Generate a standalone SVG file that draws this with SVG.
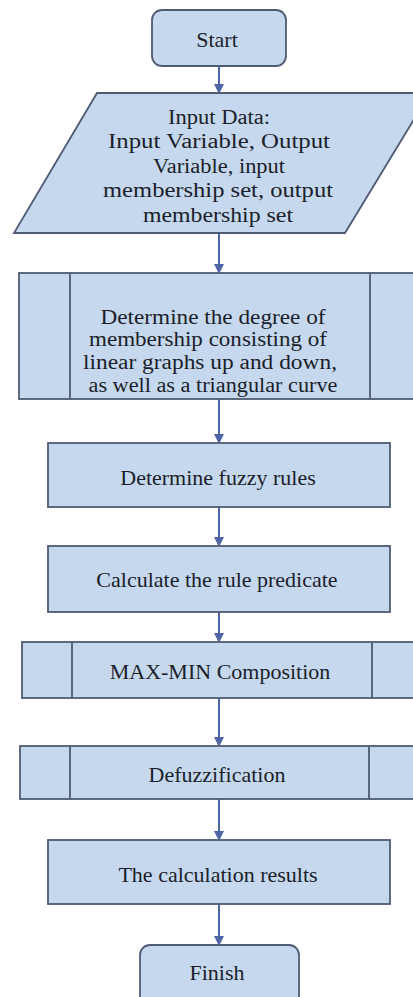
<svg xmlns="http://www.w3.org/2000/svg" width="413" height="997" viewBox="0 0 413 997">
<defs>
<style>
.box{fill:#c5d8ee;stroke:#4f5b72;stroke-width:1.8}
.sep{stroke:#4f5b72;stroke-width:1.8;fill:none}
.t{font-family:"Liberation Serif","Times New Roman",serif;font-size:22px;fill:#1c1e2a;text-anchor:middle}
.m{font-size:20px}
.c{stroke:#4e66a6;stroke-width:2;fill:none;marker-end:url(#ah)}
</style>
<marker id="ah" viewBox="0 0 10 10" refX="9" refY="5" markerWidth="5" markerHeight="5" orient="auto" markerUnits="strokeWidth">
<path d="M0,0 L10,5 L0,10 z" fill="#4e66a6"/>
</marker>
</defs>
<rect width="413" height="997" fill="#ffffff"/>
<g id="connectors">
<line class="c" x1="219" y1="66" x2="219" y2="93"/>
<line class="c" x1="219" y1="233" x2="219" y2="273"/>
<line class="c" x1="219" y1="399" x2="219" y2="443"/>
<line class="c" x1="219" y1="507" x2="219" y2="546"/>
<line class="c" x1="219" y1="612" x2="219" y2="642"/>
<line class="c" x1="219" y1="698" x2="219" y2="746"/>
<line class="c" x1="219" y1="799" x2="219" y2="840"/>
<line class="c" x1="219" y1="904" x2="219" y2="945"/>
</g>
<g id="start">
<rect class="box" x="152" y="10" width="134" height="56" rx="10"/>
<text class="t" x="217" y="47">Start</text>
</g>
<g id="input">
<polygon class="box" points="97,93 430,93 345,233 14,233"/>
<text class="t m" x="219" y="124" textLength="102" lengthAdjust="spacingAndGlyphs">Input Data:</text>
<text class="t m" x="219" y="148" textLength="222" lengthAdjust="spacingAndGlyphs">Input Variable, Output</text>
<text class="t m" x="219" y="173" textLength="132" lengthAdjust="spacingAndGlyphs">Variable, input</text>
<text class="t m" x="218" y="197" textLength="230" lengthAdjust="spacingAndGlyphs">membership set, output</text>
<text class="t m" x="218" y="222" textLength="150" lengthAdjust="spacingAndGlyphs">membership set</text>
</g>
<g id="membership">
<rect class="box" x="19" y="273" width="400" height="126"/>
<line class="sep" x1="70" y1="273" x2="70" y2="399"/>
<line class="sep" x1="370" y1="273" x2="370" y2="399"/>
<text class="t m" x="213" y="324" textLength="225" lengthAdjust="spacingAndGlyphs">Determine the degree of</text>
<text class="t m" x="208" y="346" textLength="238" lengthAdjust="spacingAndGlyphs">membership consisting of</text>
<text class="t m" x="210" y="369" textLength="254" lengthAdjust="spacingAndGlyphs">linear graphs up and down,</text>
<text class="t m" x="213" y="392" textLength="249" lengthAdjust="spacingAndGlyphs">as well as a triangular curve</text>
</g>
<g id="fuzzy">
<rect class="box" x="48" y="443" width="342" height="64"/>
<text class="t" x="218" y="485">Determine fuzzy rules</text>
</g>
<g id="predicate">
<rect class="box" x="48" y="546" width="342" height="66"/>
<text class="t" x="217" y="587">Calculate the rule predicate</text>
</g>
<g id="maxmin">
<rect class="box" x="22" y="642" width="397" height="56"/>
<line class="sep" x1="72" y1="642" x2="72" y2="698"/>
<line class="sep" x1="372" y1="642" x2="372" y2="698"/>
<text class="t" x="220" y="679">MAX-MIN Composition</text>
</g>
<g id="defuzz">
<rect class="box" x="20" y="746" width="399" height="53"/>
<line class="sep" x1="70" y1="746" x2="70" y2="799"/>
<line class="sep" x1="369" y1="746" x2="369" y2="799"/>
<text class="t" x="217" y="782">Defuzzification</text>
</g>
<g id="results">
<rect class="box" x="48" y="840" width="342" height="64"/>
<text class="t" x="218" y="882">The calculation results</text>
</g>
<g id="finish">
<rect class="box" x="140" y="945" width="159" height="62" rx="10"/>
<text class="t" x="217" y="980">Finish</text>
</g>
</svg>
